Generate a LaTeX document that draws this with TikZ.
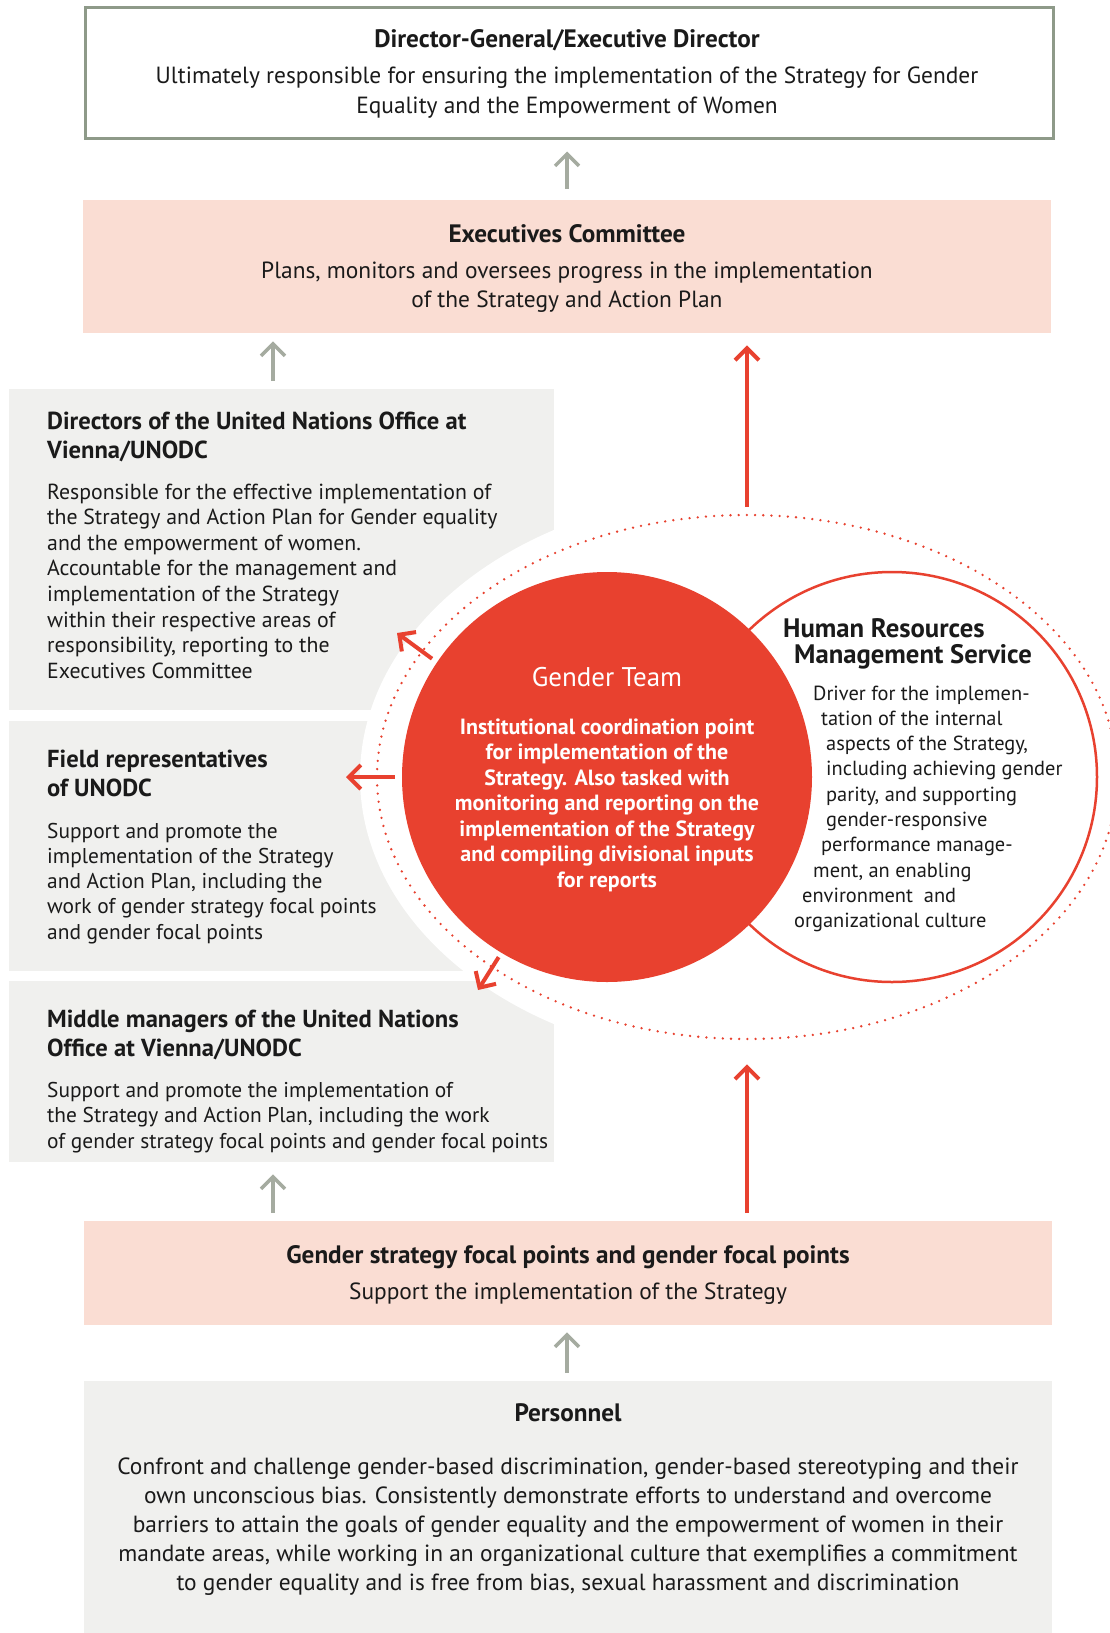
\documentclass[tikz,border=0pt]{standalone}
\usepackage{fontspec}
\setmainfont{PT Sans}
\usetikzlibrary{arrows.meta,shapes.geometric,calc}
\definecolor{ured}{HTML}{E8412F}
\definecolor{boxgray}{HTML}{F0F0EE}
\definecolor{boxpink}{HTML}{FADDD3}
\definecolor{agray}{HTML}{A5ABA0}
\definecolor{bgreen}{HTML}{8E9A89}
\definecolor{ink}{HTML}{1A1A1A}
\tikzset{
  gbox/.style={fill=boxgray,draw=none,inner sep=0,anchor=north west},
  pbox/.style={fill=boxpink,draw=none,inner sep=0,anchor=north west},
  garrow/.style={draw=agray,line width=3.5pt,-{Straight Barb[length=12pt,width=24pt]}},
  rarrow/.style={draw=ured,line width=4pt,-{Straight Barb[length=12pt,width=24pt]}},
  ttl/.style={inner sep=0,anchor=base,text=ink,font=\fontsize{25.2}{28}\selectfont\bfseries},
  ttlw/.style={ttl,anchor=base west,font=\fontsize{24.6}{28}\selectfont\bfseries},
  bod/.style={inner sep=0,anchor=base,text=ink,font=\fontsize{23.4}{27}\selectfont},
  bodw/.style={bod,anchor=base west,font=\fontsize{21.4}{25}\selectfont},
  gtt/.style={inner sep=0,anchor=base,text=white,font=\fontsize{27}{30}\selectfont},
  gtb/.style={inner sep=0,anchor=base,text=white,font=\fontsize{22}{26}\selectfont\bfseries},
}
\begin{document}
\begin{tikzpicture}[x=1pt,y=1pt]
\useasboundingbox (0,-1633) rectangle (1110,0);
% boxes
\node[draw=bgreen,line width=2.5pt,fill=white,inner sep=0,minimum width=968,minimum height=131,anchor=north west] (dg) at (84,-6) {};
\node[pbox,minimum width=968,minimum height=133] (exec) at (83,-200) {};
\node[gbox,minimum width=545,minimum height=321] (dir) at (9,-389) {};
\node[gbox,minimum width=545,minimum height=250] (field) at (9,-721) {};
\node[gbox,minimum width=545,minimum height=181] (mid) at (9,-981) {};
\node[pbox,minimum width=968,minimum height=104] (focal) at (84,-1221) {};
\node[gbox,minimum width=968,minimum height=260] (pers) at (84,-1381) {};
% halo and orbit
\node[ellipse,fill=white,inner sep=0,minimum width=774,minimum height=570] (halo) at (747,-777) {};
\node[ellipse,draw=ured,line width=2.6pt,line cap=round,dash pattern=on 0pt off 8.2pt,inner sep=0,minimum width=740,minimum height=524] (orbit) at (747,-777) {};
% circles
\node[circle,draw=ured,line width=2.5pt,fill=white,inner sep=0,minimum size=410] (hr) at (892,-777) {};
\node[circle,fill=ured,inner sep=0,minimum size=410] (gt) at (607,-777) {};
% coordinates for arrow tips
\coordinate (xL) at (273,0);
\coordinate (xC) at (567,0);
\coordinate (tipDir) at (397,-633);
\coordinate (tipField) at (346,-777);
\coordinate (tipMid) at (478,-990);
% gray arrows
\draw[garrow,shorten <=11pt,shorten >=12pt] (exec.north -| xC) -- (dg.south -| xC);
\draw[garrow,shorten <=8pt,shorten >=8pt] (dir.north -| xL) -- (exec.south -| xL);
\draw[garrow,shorten <=8pt,shorten >=12pt] (focal.north -| xL) -- (mid.south -| xL);
\draw[garrow,shorten <=8pt,shorten >=7pt] (pers.north -| xC) -- (focal.south -| xC);
% red arrows
\draw[rarrow,shorten <=7pt,shorten >=12pt] (orbit.north) -- (exec.south -| orbit.north);
\draw[rarrow,shorten <=8pt,shorten >=24pt] (focal.north -| orbit.south) -- (orbit.south);
\draw[rarrow,shorten <=6pt] (gt.146) -- (tipDir);
\draw[rarrow,shorten <=7pt] (gt.west) -- (tipField);
\draw[rarrow,shorten <=5pt] (gt.239) -- (tipMid);
% texts: top
\node[ttl] (dgT) at (567,-47) {Director-General/Executive Director};
\node[bod] (dgB1) at (567,-83) {Ultimately responsible for ensuring the implementation of the Strategy for Gender};
\node[bod] (dgB2) at (567,-113) {Equality and the Empowerment of Women};
\node[ttl] (exT) at (567,-242) {Executives Committee};
\node[bod] (exB1) at (567,-278) {Plans, monitors and oversees progress in the implementation};
\node[bod] (exB2) at (567,-307) {of the Strategy and Action Plan};
% directors
\node[ttlw] (dirT1) at (47,-429) {Directors of the United Nations Office at};
\node[ttlw] (dirT2) at (47,-458) {Vienna/UNODC};
\foreach \t [count=\i from 0] in {{Responsible for the effective implementation of},{the Strategy and Action Plan for Gender equality},{and the empowerment of women.},{Accountable for the management and},{implementation of the Strategy},{within their respective areas of},{responsibility, reporting to the},{Executives Committee}}
  \node[bodw,font=\fontsize{21.8}{25}\selectfont] (dirB\i) at (47,{-499-25.6*\i}) {\t};
% field
\node[ttlw] (fT1) at (47,-767) {Field representatives};
\node[ttlw] (fT2) at (47,-796) {of UNODC};
\foreach \t [count=\i from 0] in {{Support and promote the},{implementation of the Strategy},{and Action Plan, including the},{work of gender strategy focal points},{and gender focal points}}
  \node[bodw] (fB\i) at (47,{-838-25.3*\i}) {\t};
% middle
\node[ttlw] (mT1) at (47,-1027) {Middle managers of the United Nations};
\node[ttlw] (mT2) at (47,-1056) {Office at Vienna/UNODC};
\foreach \t [count=\i from 0] in {{Support and promote the implementation of},{the Strategy and Action Plan, including the work},{of gender strategy focal points and gender focal points}}
  \node[bodw] (mB\i) at (47,{-1097-25.5*\i}) {\t};
% gender team
\node[gtt] (gtT) at (607,-686) {Gender Team};
\foreach \t [count=\i from 0] in {{Institutional coordination point},{for implementation of the},{Strategy. Also tasked with},{monitoring and reporting on the},{implementation of the Strategy},{and compiling divisional inputs},{for reports}}
  \node[gtb] (gtB\i) at (607,{-734-25.5*\i}) {\t};
% HR
\node[ttlw,font=\fontsize{26.7}{30}\selectfont\bfseries] (hrT1) at (783,-637) {Human Resources};
\node[ttlw,font=\fontsize{26.7}{30}\selectfont\bfseries] (hrT2) at (794,-663) {Management Service};
\foreach \t/\xx [count=\i from 0] in {{Driver for the implemen-}/813,{tation of the internal}/821,{aspects of the Strategy,}/826,{including achieving gender}/826,{parity, and supporting}/826,{gender-responsive}/826,{performance manage-}/821,{ment, an enabling}/813,{environment\ \ and}/802,{organizational culture}/794}
  \node[bodw,font=\fontsize{20.4}{24}\selectfont] (hrB\i) at (\xx,{-700-25.3*\i}) {\t};
% focal
\node[ttl] (foT) at (568,-1263) {Gender strategy focal points and gender focal points};
\node[bod] (foB) at (568,-1299) {Support the implementation of the Strategy};
% personnel
\node[ttl] (peT) at (568,-1421) {Personnel};
\foreach \t [count=\i from 0] in {{Confront and challenge gender-based discrimination, gender-based stereotyping and their},{own unconscious bias. Consistently demonstrate efforts to understand and overcome},{barriers to attain the goals of gender equality and the empowerment of women in their},{mandate areas, while working in an organizational culture that exemplifies a commitment},{to gender equality and is free from bias, sexual harassment and discrimination}}
  \node[bod] (peB\i) at (568,{-1474-29*\i}) {\t};
\end{tikzpicture}
\end{document}
